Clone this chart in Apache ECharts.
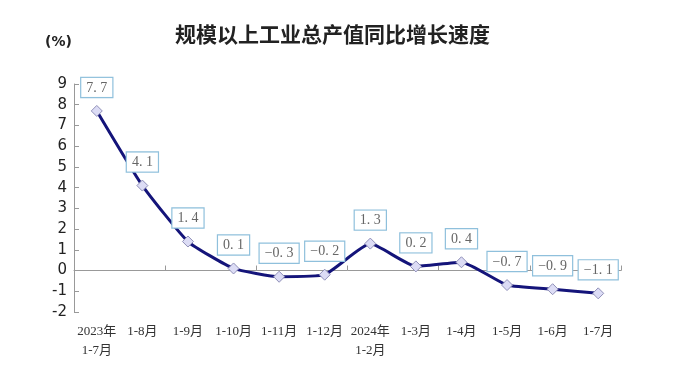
<!DOCTYPE html>
<html><head><meta charset="utf-8">
<script src="https://cdn.jsdelivr.net/npm/echarts@6/dist/echarts.min.js"></script>
<style>html,body{margin:0;padding:0;background:#fff}#c{width:674px;height:376px}</style>
</head><body><div id="c"></div>
<script>
var categories = ["2023年\n1-7月","1-8月","1-9月","1-10月","1-11月","1-12月","2024年\n1-2月","1-3月","1-4月","1-5月","1-6月","1-7月"];
var growth = [7.7, 4.1, 1.4, 0.1, -0.3, -0.2, 1.3, 0.2, 0.4, -0.7, -0.9, -1.1];
var yTicks = [-2, 9, 1];

var chart = echarts.init(document.getElementById('c'));
chart.setOption({
  animation: false,
  backgroundColor: '#fff',
  title: {
    text: '规模以上工业总产值同比增长速度',
    left: 170, top: 19,
    textStyle: {fontFamily: 'Noto Sans CJK SC', fontSize: 21, fontWeight: 'bold', color: '#222'}
  },
  graphic: [{type: 'text', left: 45, top: 35, style: {text: '(%)', font: 'bold 14px "DejaVu Sans", sans-serif', fill: '#222'}}],
  grid: {left: 74, right: 53, top: 84, bottom: 64},
  xAxis: [{
    type: 'category', data: categories, position: 'bottom',
    axisLine: {show: false, onZero: false}, axisTick: {show: false},
    axisLabel: {interval: 0, margin: 10, color: '#333', fontSize: 13, lineHeight: 19,
      fontFamily: '"Liberation Serif", "Noto Sans CJK SC", serif'}
  }, {
    type: 'category', data: categories, position: 'bottom',
    axisLine: {show: true, onZero: true, lineStyle: {color: '#999', width: 1}},
    axisTick: {show: true, inside: true, length: 5, lineStyle: {color: '#999'}},
    axisLabel: {show: false}
  }],
  yAxis: {
    type: 'value', min: yTicks[0], max: yTicks[1], interval: yTicks[2],
    axisLine: {show: true, lineStyle: {color: '#999'}},
    axisTick: {show: true, inside: true, length: 5, lineStyle: {color: '#999'}},
    splitLine: {show: false},
    axisLabel: {color: '#222', fontSize: 15, margin: 7, fontFamily: '"DejaVu Sans", sans-serif'}
  },
  series: [{
    type: 'line', data: growth, xAxisIndex: 1, smooth: 0.15,
    lineStyle: {color: '#14147a', width: 3},
    symbol: 'diamond', symbolSize: 11,
    itemStyle: {color: '#dcdcf5', borderColor: '#9090b8', borderWidth: 1},
    label: {
      show: true, position: 'top', distance: 8,
      formatter: function(p){ return p.value.toFixed(1).replace('.', '. ').replace('-', '−'); },
      color: '#666', fontSize: 14, fontFamily: '"Liberation Serif", serif',
      backgroundColor: '#fff', borderColor: '#8fc0dc', borderWidth: 1.2,
      padding: [3, 5, 2, 5]
    }
  }]
});
</script></body></html>
